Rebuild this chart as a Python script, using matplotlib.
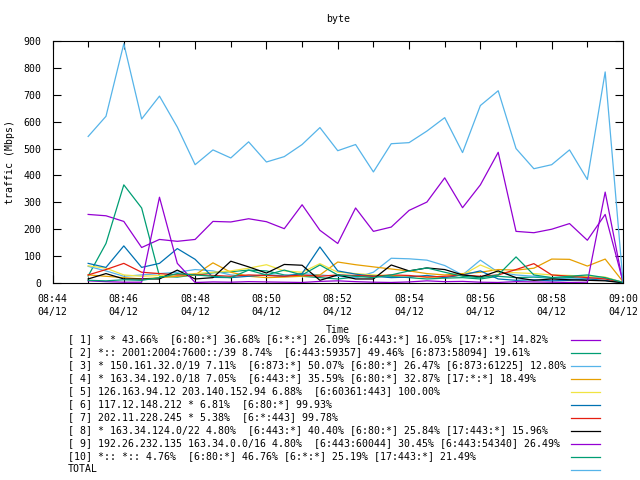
import matplotlib
matplotlib.use("Agg")
import matplotlib.pyplot as plt
import matplotlib.dates as mdates
from matplotlib.lines import Line2D
import pandas as pd

# sample times, one every 30 s
times = pd.date_range("2024-04-12 08:45:00", "2024-04-12 09:00:00", freq="30s")

s1 = [255, 250, 229, 132, 162, 155, 162, 229, 227, 239, 228, 202, 291, 196, 147, 279,
      192, 208, 270, 301, 391, 280, 365, 486, 192, 187, 200, 221, 159, 255, 5]
s2 = [26, 147, 365, 279, 25, 22, 30, 38, 42, 48, 45, 30, 25, 20, 15, 22,
      28, 25, 20, 15, 18, 20, 15, 25, 20, 22, 18, 20, 25, 18, 2]
s3 = [62, 45, 25, 30, 35, 40, 50, 45, 30, 25, 30, 28, 35, 30, 25, 20,
      40, 92, 90, 85, 65, 30, 85, 40, 30, 25, 20, 15, 18, 20, 3]
s4 = [30, 25, 20, 15, 20, 25, 30, 75, 40, 25, 20, 22, 25, 30, 78, 68,
      60, 52, 45, 35, 30, 35, 40, 50, 48, 55, 89, 88, 63, 89, 5]
s5 = [64, 55, 30, 25, 28, 30, 35, 40, 45, 55, 68, 45, 40, 72, 40, 35,
      30, 28, 25, 22, 20, 30, 67, 40, 38, 35, 30, 28, 25, 22, 2]
s6 = [73, 58, 138, 58, 73, 128, 88, 21, 20, 25, 30, 25, 35, 134, 45, 33,
      25, 20, 22, 28, 20, 30, 45, 15, 10, 12, 8, 10, 15, 10, 1]
s7 = [30, 50, 73, 40, 35, 30, 32, 28, 25, 30, 28, 25, 30, 25, 30, 28,
      25, 30, 28, 22, 25, 30, 25, 30, 50, 72, 30, 25, 20, 15, 2]
s8 = [15, 35, 15, 15, 15, 48, 15, 20, 81, 60, 37, 69, 66, 10, 30, 15,
      15, 67, 45, 56, 50, 30, 22, 45, 20, 10, 15, 12, 10, 8, 1]
s9 = [8, 5, 3, 3, 319, 73, 2, 4, 3, 5, 4, 3, 2, 6, 8, 5,
      3, 2, 4, 8, 5, 6, 3, 2, 5, 4, 3, 2, 3, 338, 0]
s10 = [10, 8, 12, 10, 20, 35, 30, 25, 20, 48, 30, 48, 30, 67, 30, 25,
       20, 30, 45, 56, 40, 25, 20, 30, 97, 30, 20, 25, 30, 20, 2]
total = [545, 620, 890, 610, 695, 580, 440, 495, 465, 525, 450, 470, 515, 578, 492, 515,
         413, 518, 522, 565, 615, 485, 660, 715, 500, 425, 440, 495, 385, 785, 5]

labels = [
    "[ 1] * * 43.66%  [6:80:*] 36.68% [6:*:*] 26.09% [6:443:*] 16.05% [17:*:*] 14.82%",
    "[ 2] *:: 2001:2004:7600::/39 8.74%  [6:443:59357] 49.46% [6:873:58094] 19.61%",
    "[ 3] * 150.161.32.0/19 7.11%  [6:873:*] 50.07% [6:80:*] 26.47% [6:873:61225] 12.80%",
    "[ 4] * 163.34.192.0/18 7.05%  [6:443:*] 35.59% [6:80:*] 32.87% [17:*:*] 18.49%",
    "[ 5] 126.163.94.12 203.140.152.94 6.88%  [6:60361:443] 100.00%",
    "[ 6] 117.12.148.212 * 6.81%  [6:80:*] 99.93%",
    "[ 7] 202.11.228.245 * 5.38%  [6:*:443] 99.78%",
    "[ 8] * 163.34.124.0/22 4.80%  [6:443:*] 40.40% [6:80:*] 25.84% [17:443:*] 15.96%",
    "[ 9] 192.26.232.135 163.34.0.0/16 4.80%  [6:443:60044] 30.45% [6:443:54340] 26.49%",
    "[10] *:: *:: 4.76%  [6:80:*] 46.76% [6:*:*] 25.19% [17:443:*] 21.49%",
    "TOTAL",
]
colors = ["#9400d3", "#009e73", "#56b4e9", "#e69f00", "#f0e442", "#0072b2",
          "#e51e10", "#000000", "#9400d3", "#009e73", "#56b4e9"]
series = [s1, s2, s3, s4, s5, s6, s7, s8, s9, s10, total]

plt.rcParams['font.family'] = ['DejaVu Sans Mono']
fs = 7.1

fig = plt.figure(figsize=(6.4, 4.8), dpi=100)
W, H = 640, 480
ax = fig.add_axes([52.5 / W, 1 - 283 / H, (623 - 52.5) / W, (283 - 41) / H])

for ys, c in zip(series, colors):
    ax.plot(times, ys, color=c, lw=0.9)

ax.set_xlim(pd.Timestamp("2024-04-12 08:44"), pd.Timestamp("2024-04-12 09:00"))
ax.set_ylim(0, 900)
ax.set_yticks(range(0, 901, 100))
ax.xaxis.set_major_locator(mdates.MinuteLocator(byminute=range(0, 60, 2)))
ax.xaxis.set_minor_locator(mdates.MinuteLocator())
ax.xaxis.set_major_formatter(mdates.DateFormatter("%H:%M\n%m/%d"))
ax.tick_params(which="both", direction="in", top=True, right=True, labelsize=fs,
               width=0.8, pad=8)
ax.tick_params(which="major", length=6)
ax.tick_params(which="minor", length=4)
for sp in ax.spines.values():
    sp.set_linewidth(0.8)
for t in ax.get_xticklabels():
    t.set_linespacing(1.35)

ax.set_title("byte", fontsize=fs, pad=14)
ax.set_xlabel("Time", fontsize=fs, labelpad=6)
ax.set_ylabel("traffic (Mbps)", fontsize=fs, labelpad=6)

# gnuplot-style key below the plot
for i, (lab, c) in enumerate(zip(labels, colors)):
    yy = 1 - (339.5 + 13 * i) / H
    fig.text(67.5 / W, yy, lab, fontsize=fs, va="center", ha="left")
    fig.add_artist(Line2D([571 / W, 600 / W], [yy, yy], color=c, lw=0.9,
                          transform=fig.transFigure))

fig.savefig("out.png", dpi=100)
